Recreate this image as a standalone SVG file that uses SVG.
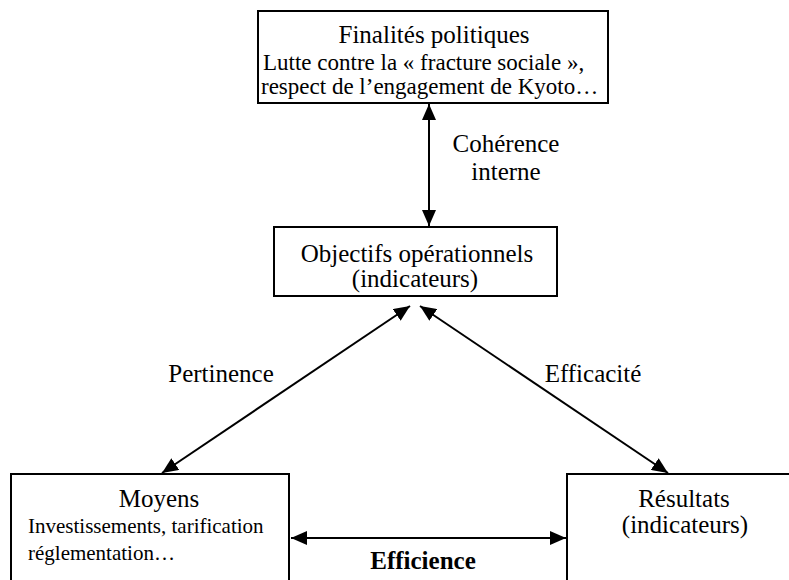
<svg xmlns="http://www.w3.org/2000/svg" width="789" height="580" viewBox="0 0 789 580">
<defs>
<style>
text{fill:#000;font-family:"Liberation Serif","Times New Roman",serif}
.t{font-size:25px;text-anchor:middle}
.s{font-size:23px}
.box{fill:#fff;stroke:#000;stroke-width:2}
.c{stroke:#000;stroke-width:2;fill:none}
</style>
<marker id="b" viewBox="0 0 16 14" refX="16" refY="7" markerWidth="16" markerHeight="14" markerUnits="userSpaceOnUse" orient="auto-start-reverse">
<path d="M0,0 L16,7 L0,14 z" fill="#000"/>
</marker>
</defs>
<rect width="789" height="580" fill="#fff"/>
<g id="finalites">
<rect class="box" x="258" y="11" width="350" height="92"/>
<text class="t" x="434" y="43">Finalités politiques</text>
<text class="s" x="263" y="70">Lutte contre la « fracture sociale »,</text>
<text class="s" x="261" y="94">respect de l’engagement de Kyoto…</text>
</g>
<g id="objectifs">
<rect class="box" x="274" y="227" width="283" height="69"/>
<text class="t" x="417" y="262">Objectifs opérationnels</text>
<text class="t" x="415" y="287">(indicateurs)</text>
</g>
<g id="moyens">
<rect class="box" x="11" y="474" width="278" height="120"/>
<text class="t" x="159" y="507">Moyens</text>
<text class="s" x="28" y="533" style="font-size:21px">Investissements, tarification</text>
<text class="s" x="28" y="560" style="font-size:21px">réglementation…</text>
</g>
<g id="resultats">
<rect class="box" x="567" y="474" width="240" height="120"/>
<text class="t" x="684" y="507">Résultats</text>
<text class="t" x="685" y="533">(indicateurs)</text>
</g>
<g id="connectors">
<line class="c" x1="429" y1="104" x2="429" y2="226" marker-start="url(#b)" marker-end="url(#b)"/>
<line class="c" x1="162" y1="473" x2="410" y2="306" marker-start="url(#b)" marker-end="url(#b)"/>
<line class="c" x1="420" y1="306" x2="668" y2="473" marker-start="url(#b)" marker-end="url(#b)"/>
<line class="c" x1="291" y1="538" x2="566" y2="538" marker-start="url(#b)" marker-end="url(#b)"/>
</g>
<g id="labels">
<text class="t" x="506" y="152">Cohérence</text>
<text class="t" x="506" y="180">interne</text>
<text class="t" x="221" y="382">Pertinence</text>
<text class="t" x="593" y="382">Efficacité</text>
<text class="t" x="423" y="569" style="font-weight:bold">Efficience</text>
</g>
</svg>
